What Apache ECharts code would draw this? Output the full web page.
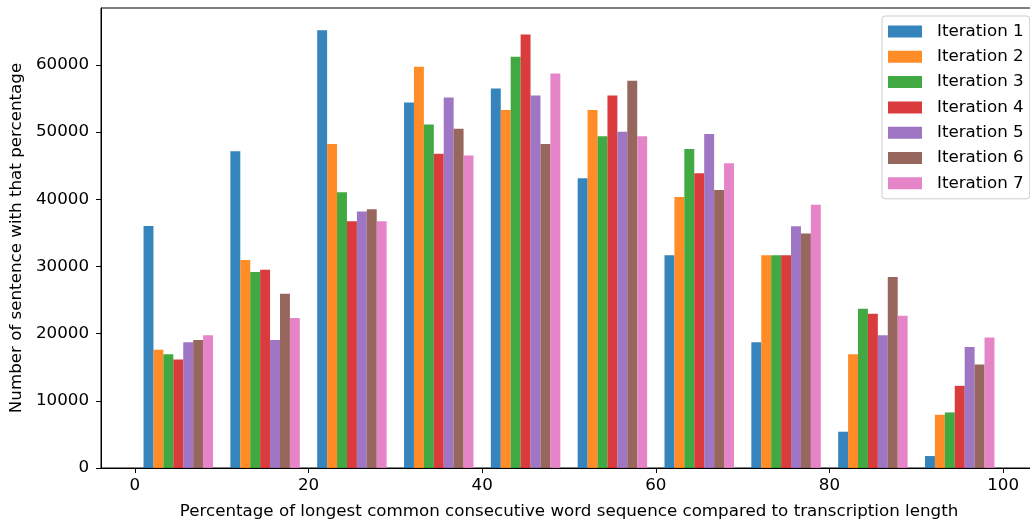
<!DOCTYPE html>
<html><head><meta charset="utf-8">
<script src="https://cdn.jsdelivr.net/npm/echarts@6/dist/echarts.min.js"></script>
<style>html,body{margin:0;padding:0;background:#fff}#c{width:1030px;height:529px}</style>
</head><body><div id="c"></div>
<script>
const binStarts = [0, 10, 20, 30, 40, 50, 60, 70, 80, 90];
const seriesNames = ['Iteration 1','Iteration 2','Iteration 3','Iteration 4','Iteration 5','Iteration 6','Iteration 7'];
const iteration1 = [36000, 47130, 65150, 54400, 56490, 43120, 31680, 18710, 5400, 1780];
const iteration2 = [17600, 30940, 48220, 59700, 53270, 53270, 40350, 31680, 16930, 7920];
const iteration3 = [16930, 29160, 41040, 51140, 61190, 49360, 47480, 31680, 23710, 8270];
const iteration4 = [16140, 29500, 36730, 46780, 64500, 55450, 43860, 31680, 22970, 12230];
const iteration5 = [18710, 19060, 38170, 55150, 55450, 50050, 49700, 35990, 19750, 18020];
const iteration6 = [19060, 25940, 38510, 50500, 48220, 57620, 41390, 34900, 28420, 15400];
const iteration7 = [19750, 22330, 36730, 46490, 58710, 49360, 45350, 39160, 22670, 19410];
const xTickLabels = [0, 20, 40, 60, 80, 100];
const yTickLabels = [0, 10000, 20000, 30000, 40000, 50000, 60000];

const allSeries = [iteration1, iteration2, iteration3, iteration4, iteration5, iteration6, iteration7];
const colors = ['rgba(31,119,180,0.9)','rgba(255,127,14,0.9)','rgba(44,160,44,0.9)','rgba(214,39,40,0.9)',
                'rgba(148,103,189,0.9)','rgba(140,86,75,0.9)','rgba(227,119,194,0.9)'];
const FONT = 'DejaVu Sans';
const FS = 16.7;
const nSeries = allSeries.length;
const binWidth = 10;
const groupFrac = 0.8;
const barW = groupFrac * binWidth / nSeries;
const groupOffset = (1 - groupFrac) / 2 * binWidth;

function makeRender(s) {
  return function (params, api) {
    const start = api.value(0);
    const v = api.value(1);
    const x0 = start + groupOffset + s * barW;
    const x1 = x0 + barW;
    const p0 = api.coord([x0, v]);
    const p1 = api.coord([x1, 0]);
    return {
      type: 'rect',
      shape: { x: p0[0], y: p0[1], width: p1[0] - p0[0], height: p1[1] - p0[1] },
      style: { fill: api.visual('color') }
    };
  };
}

const series = allSeries.map((vals, s) => ({
  type: 'custom',
  name: seriesNames[s],
  color: colors[s],
  itemStyle: { color: colors[s] },
  renderItem: makeRender(s),
  clip: true,
  data: binStarts.map((b, i) => [b, vals[i]])
}));

const chart = echarts.init(document.getElementById('c'), null, { renderer: 'canvas' });
chart.setOption({
  animation: false,
  backgroundColor: '#fff',
  textStyle: { fontFamily: FONT },
  grid: { left: 101, top: 8, right: -7, bottom: 61, outerBoundsMode: 'none', containLabel: false,
          show: true, borderColor: '#000', borderWidth: 1, backgroundColor: 'transparent' },
  xAxis: {
    type: 'value', min: -3.9, max: 103.9,
    axisLine: { show: true, onZero: false, lineStyle: { color: '#000', width: 1 } },
    axisTick: { show: true, customValues: xTickLabels, length: 5, lineStyle: { color: '#000' } },
    axisLabel: { customValues: xTickLabels, fontSize: FS, color: '#000', fontFamily: FONT, margin: 9 },
    splitLine: { show: false },
    name: 'Percentage of longest common consecutive word sequence compared to transcription length',
    nameLocation: 'middle', nameGap: 35,
    nameTextStyle: { fontSize: FS, color: '#000', fontFamily: FONT }
  },
  yAxis: {
    type: 'value', min: 0, max: 68460,
    axisLine: { show: true, onZero: false, lineStyle: { color: '#000', width: 1 } },
    axisTick: { show: true, customValues: yTickLabels, length: 5, lineStyle: { color: '#000' } },
    axisLabel: { customValues: yTickLabels, fontSize: FS, color: '#000', fontFamily: FONT, margin: 12,
                 formatter: v => String(v) },
    splitLine: { show: false },
    name: 'Number of sentence with that percentage',
    nameLocation: 'middle', nameGap: 68,
    nameTextStyle: { fontSize: FS, color: '#000', fontFamily: FONT }
  },
  legend: {
    orient: 'vertical', left: 882, top: 16,
    icon: 'rect', itemWidth: 34, itemHeight: 12, itemGap: 8.3,
    padding: [7, 6, 7, 6],
    backgroundColor: '#fff', borderColor: '#ccc', borderWidth: 1, borderRadius: 3,
    textStyle: { fontFamily: FONT, fontSize: FS, color: '#000', padding: [0, 0, 0, 10], lineHeight: 15 },
    data: seriesNames
  },
  series: series
});
</script></body></html>
